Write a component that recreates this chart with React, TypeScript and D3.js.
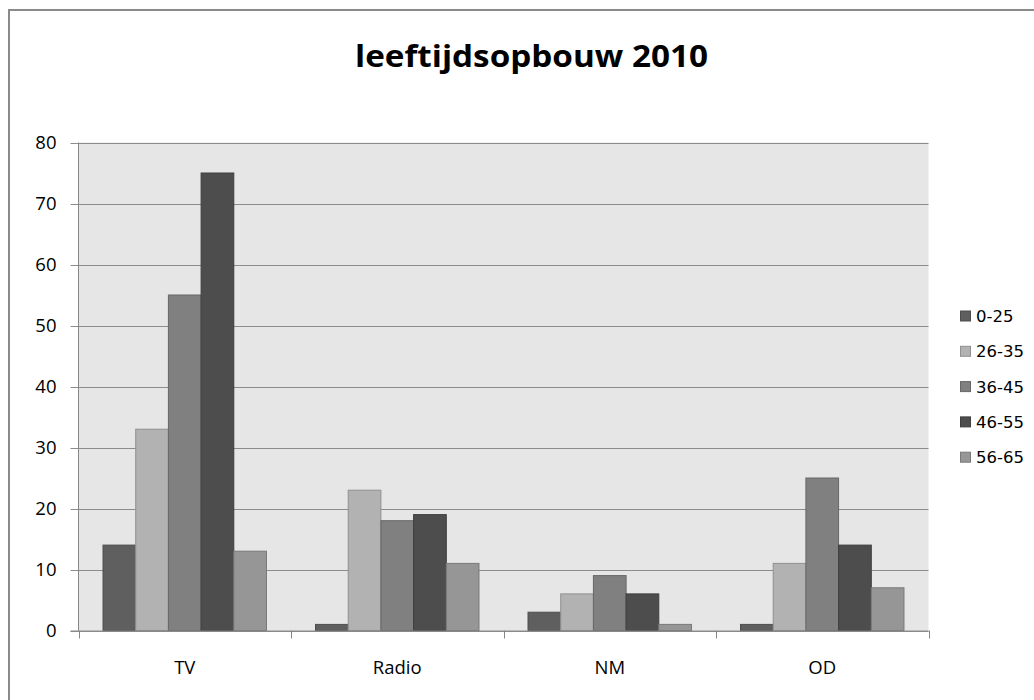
import React from "react";
import * as d3 from "d3";

// Media categories on the x axis
const categories = ["TV", "Radio", "NM", "OD"];

// Age groups (one bar per group in every category)
const ageGroups = ["0-25", "26-35", "36-45", "46-55", "56-65"];

// Counts per age group, in category order
const age0to25 = [14, 1, 3, 1];
const age26to35 = [33, 23, 6, 11];
const age36to45 = [55, 18, 9, 25];
const age46to55 = [75, 19, 6, 14];
const age56to65 = [13, 11, 1, 7];

const seriesValues = [age0to25, age26to35, age36to45, age46to55, age56to65];

const yTicks = [0, 10, 20, 30, 40, 50, 60, 70, 80];

const title = "leeftijdsopbouw 2010";

const fills = ["#5f5f5f", "#b2b2b2", "#808080", "#4d4d4d", "#969696"];

const W = 1034;
const H = 700;
const plot = { left: 78.5, right: 928.5, top: 142.5, bottom: 630.5 };
const font = "'Open Sans', 'Liberation Sans', sans-serif";
const legendFont = "'DejaVu Sans', Verdana, sans-serif";

export default function App() {
  const x0 = d3
    .scaleBand<string>()
    .domain(categories)
    .range([plot.left, plot.right])
    .paddingInner(0)
    .paddingOuter(0);

  // bars sit in the middle of each band, with a 150% gap between groups
  const bw = x0.bandwidth();
  const barW = bw / (ageGroups.length + 1.5);
  const groupOffset = (bw - barW * ageGroups.length) / 2;

  const y = d3.scaleLinear().domain([0, 80]).range([plot.bottom, plot.top]);

  const legendX = 960.5;
  const legendY0 = 316;
  const legendStep = 35.3;

  return (
    <svg
      width={W}
      height={H}
      style={{ position: "absolute", left: 0, top: 0, display: "block", background: "#fff" }}
    >
      {/* outer chart frame */}
      <rect x={9} y={10} width={W + 10} height={H + 10} fill="#fff" stroke="#8a8a8a" strokeWidth={2} />

      <text
        x={531.5}
        y={67}
        textAnchor="middle"
        fontFamily={font}
        fontWeight="bold"
        fontSize={30}
        textLength={353}
        lengthAdjust="spacingAndGlyphs"
        fill="#000"
      >
        {title}
      </text>

      {/* plot background */}
      <rect
        x={plot.left}
        y={plot.top}
        width={plot.right - plot.left}
        height={plot.bottom - plot.top}
        fill="#e6e6e6"
      />

      {/* gridlines and y ticks */}
      {yTicks.map((t) => (
        <g key={t}>
          <line
            x1={plot.left - 8}
            x2={plot.right}
            y1={Math.round(y(t)) + 0.5}
            y2={Math.round(y(t)) + 0.5}
            stroke="#8c8c8c"
            strokeWidth={1}
          />
          <text
            x={56.5}
            y={y(t)}
            dy="0.36em"
            textAnchor="end"
            fontFamily={font}
            fontSize={18.5}
            fill="#000"
          >
            {t}
          </text>
        </g>
      ))}

      {/* bars */}
      {categories.map((c, ci) => (
        <g key={c}>
          {ageGroups.map((g, gi) => {
            const v = seriesValues[gi][ci];
            const bx = (x0(c) as number) + groupOffset + gi * barW;
            const top = y(v);
            return (
              <rect
                key={g}
                x={bx}
                y={top}
                width={barW}
                height={plot.bottom - top}
                fill={fills[gi]}
                stroke={d3.color(fills[gi])!.darker(0.6).formatHex()}
                strokeWidth={1}
              />
            );
          })}
        </g>
      ))}

      {/* y axis line */}
      <line x1={plot.left} x2={plot.left} y1={plot.top} y2={plot.bottom} stroke="#868686" />
      {/* x axis line */}
      <line x1={plot.left - 8} x2={plot.right} y1={plot.bottom + 0.5} y2={plot.bottom + 0.5} stroke="#868686" />
      {/* category boundary ticks */}
      {[...categories.map((c) => x0(c) as number), plot.right].map((tx, i) => (
        <line
          key={i}
          x1={Math.round(tx) + 0.5}
          x2={Math.round(tx) + 0.5}
          y1={plot.bottom}
          y2={plot.bottom + 8}
          stroke="#868686"
        />
      ))}

      {/* category labels */}
      {categories.map((c) => (
        <text
          key={c}
          x={(x0(c) as number) + bw / 2}
          y={673.5}
          textAnchor="middle"
          fontFamily={font}
          fontSize={18.5}
          fill="#000"
        >
          {c}
        </text>
      ))}

      {/* legend */}
      {ageGroups.map((g, i) => {
        const cy = legendY0 + i * legendStep;
        return (
          <g key={g}>
            <rect
              x={legendX}
              y={cy - 5}
              width={10}
              height={10}
              fill={fills[i]}
              stroke={d3.color(fills[i])!.darker(0.6).formatHex()}
            />
            <text
              x={976}
              y={cy}
              dy="0.36em"
              fontFamily={legendFont}
              fontSize={16.5}
              fill="#000"
            >
              {g}
            </text>
          </g>
        );
      })}
    </svg>
  );
}
